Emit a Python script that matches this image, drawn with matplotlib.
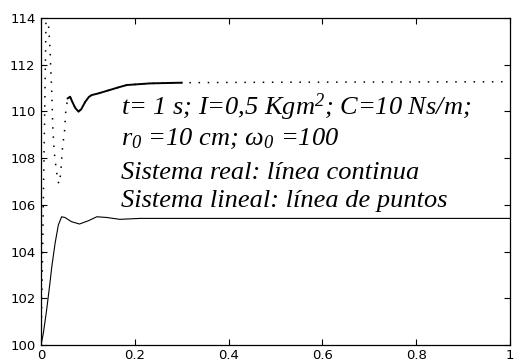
import numpy as np
import matplotlib
matplotlib.use('Agg')
import matplotlib.pyplot as plt

plt.rcParams['mathtext.fontset'] = 'custom'
plt.rcParams['mathtext.rm'] = 'Liberation Serif:italic'
plt.rcParams['mathtext.it'] = 'Liberation Serif:italic'

# Sistema real (línea continua)
real_t = [0, 0.005, 0.012, 0.019, 0.023, 0.030, 0.037, 0.044, 0.051, 0.065,
          0.082, 0.101, 0.119, 0.140, 0.168, 0.211, 0.4, 0.6, 0.8, 1.0]
real_y = [100, 100.5, 101.5, 102.64, 103.35, 104.35, 105.14, 105.49, 105.46, 105.28,
          105.18, 105.32, 105.49, 105.46, 105.38, 105.42, 105.42, 105.42, 105.42, 105.42]

# Sistema lineal (línea de puntos)
lineal_t = [0, 0.003, 0.006, 0.009, 0.0115, 0.014, 0.017, 0.0195, 0.021, 0.023,
            0.025, 0.028, 0.032, 0.036, 0.039, 0.042, 0.046, 0.050, 0.053, 0.057,
            0.062, 0.067, 0.073, 0.080, 0.086, 0.094, 0.102, 0.108, 0.122, 0.147,
            0.165, 0.183, 0.232, 0.300, 0.5, 0.75, 1.0]
lineal_y = [100, 103.5, 107.5, 111.5, 115.2, 114.3, 113.4, 112.6, 111.7, 110.8,
            109.4, 108.3, 107.6, 107.0, 106.9, 107.35, 108.5, 109.1, 110.06, 110.56,
            110.63, 110.4, 110.15, 109.99, 110.1, 110.4, 110.62, 110.7, 110.77, 110.92,
            111.03, 111.13, 111.2, 111.23, 111.25, 111.26, 111.27]

x_ticks = [0, 0.2, 0.4, 0.6, 0.8, 1]
x_labels = ['0', '0.2', '0.4', '0.6', '0.8', '1']
y_ticks = [100, 102, 104, 106, 108, 110, 112, 114]

text_lines = [
    't= 1 s; I=0,5 Kgm$^2$; C=10 Ns/m;',
    'r$_0$ =10 cm; ω$_0$ =100',
    'Sistema real: línea continua',
    'Sistema lineal: línea de puntos',
]

fig = plt.figure(figsize=(5.14, 3.63), dpi=100)
ax = fig.add_axes([41 / 514, 18 / 363, 469 / 514, 327 / 363])

lt = np.array(lineal_t)
ly = np.array(lineal_y)
ax.plot(lt, ly, color='black', lw=1.1, linestyle=(0, (1, 5)))
dense = (lt >= 0.057) & (lt <= 0.3)
ax.plot(lt[dense], ly[dense], color='black', lw=1.4)
ax.plot(real_t, real_y, color='black', lw=0.8)

ax.set_xlim(0, 1)
ax.set_ylim(100, 114)
ax.set_xticks(x_ticks)
ax.set_xticklabels(x_labels)
ax.set_yticks(y_ticks)
ax.tick_params(direction='in', length=4, width=0.8, top=True, right=True,
               labelsize=9.5, colors='black')
ax.tick_params(axis='x', pad=3)
ax.tick_params(axis='y', pad=4)
for lab in ax.get_xticklabels() + ax.get_yticklabels():
    lab.set_family('DejaVu Sans')
for s in ax.spines.values():
    s.set_linewidth(0.9)

# texto en coordenadas de pixel del eje
ax_h = 327
baselines = [115, 145, 179, 207]
for line, b in zip(text_lines, baselines):
    ax.text((121 - 41) / 469, (345 - b) / ax_h, line, transform=ax.transAxes,
            family='Liberation Serif', style='italic', fontsize=19,
            va='baseline', ha='left')

fig.savefig('out.png', dpi=100)
plt.close(fig)
